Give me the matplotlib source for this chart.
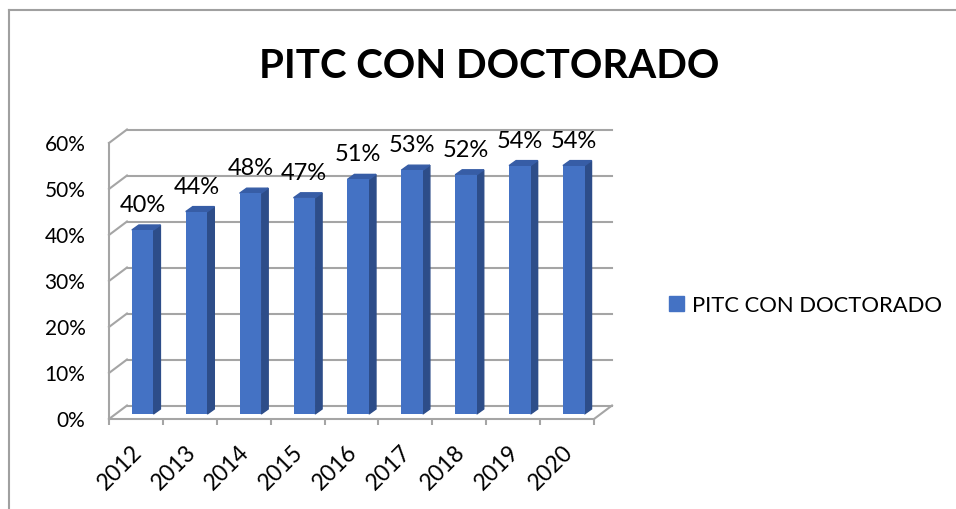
import matplotlib
matplotlib.use("Agg")
import matplotlib.pyplot as plt
from matplotlib.patches import Polygon, Patch
from matplotlib.lines import Line2D
from matplotlib.transforms import ScaledTranslation

years = ["2012", "2013", "2014", "2015", "2016", "2017", "2018", "2019", "2020"]
values = [0.40, 0.44, 0.48, 0.47, 0.51, 0.53, 0.52, 0.54, 0.54]
y_ticks = [0.0, 0.1, 0.2, 0.3, 0.4, 0.5, 0.6]
y_labels = ["0%", "10%", "20%", "30%", "40%", "50%", "60%"]
title = "PITC CON DOCTORADO"

plt.rcParams["font.family"] = ["Lato", "DejaVu Sans"]

W, H = 956, 509
fig = plt.figure(figsize=(W / 100, H / 100), dpi=100)

# front plane of the 3d box, in pixels
left, right, bottom, top = 109, 594, 419, 143
ax = fig.add_axes([left / W, 1 - bottom / H, (right - left) / W, (bottom - top) / H])
n = len(years)
ax.set_xlim(-0.5, n - 0.5)
ax.set_ylim(0, 0.6)
for s in ax.spines.values():
    s.set_visible(False)

# pixel -> data conversion
ppx = (right - left) / n
ppy = (bottom - top) / 0.6
ox, oy = 18 / ppx, 13.5 / ppy          # depth of the wall
bx, by = 6.7 / ppx, 5 / ppy            # where the bar front sits
sx, sy = 7 / ppx, 5 / ppy              # bar depth
bw = 0.4

grid = "#A5A5A5"
lw = 1.5
x0, x1 = -0.5, n - 0.5

# back wall gridlines + left side wall diagonals
for v in y_ticks:
    ax.plot([x0 + ox, x1 + ox], [v + oy, v + oy], color=grid, lw=lw, clip_on=False, zorder=1)
    ax.plot([x0, x0 + ox], [v, v + oy], color=grid, lw=lw, clip_on=False, zorder=1)
# left vertical axis line and floor
ax.plot([x0, x0], [0, 0.6], color=grid, lw=lw, clip_on=False, zorder=1)
ax.plot([x0, x1], [0, 0], color=grid, lw=lw, clip_on=False, zorder=5)
ax.plot([x1, x1 + ox], [0, oy], color=grid, lw=lw, clip_on=False, zorder=5)

front = "#4472C4"
side = "#2D4D89"
topc = "#375DA6"
xs = [i + bx for i in range(n)]
bars = ax.bar(xs, values, width=bw, bottom=by, color=front, zorder=3, clip_on=False)
for xc, v in zip(xs, values):
    xl, xr = xc - bw / 2, xc + bw / 2
    y0, y1 = by, by + v
    ax.add_patch(Polygon([(xr, y0), (xr + sx, y0 + sy), (xr + sx, y1 + sy), (xr, y1)],
                         closed=True, color=side, zorder=2, clip_on=False))
    ax.add_patch(Polygon([(xl, y1), (xr, y1), (xr + sx, y1 + sy), (xl + sx, y1 + sy)],
                         closed=True, color=topc, zorder=2, clip_on=False))
    ax.annotate(f"{v:.0%}", (xc, y1), xytext=(0, 13), textcoords="offset points",
                ha="center", va="baseline", fontsize=17, color="black")

# axes ticks
ax.set_yticks(y_ticks)
ax.set_yticklabels(y_labels, fontsize=15)
ax.tick_params(axis="y", length=0, pad=17)
ax.set_xticks(range(n))
ax.set_xticklabels(years, fontsize=16.5, rotation=45, ha="right", rotation_mode="anchor")
ax.tick_params(axis="x", which="major", length=0, pad=16)
shift = ScaledTranslation(-5 / 100, 0, fig.dpi_scale_trans)
for lab in ax.get_xticklabels():
    lab.set_transform(lab.get_transform() + shift)
ax.set_xticks([i - 0.5 for i in range(n + 1)], minor=True)
ax.tick_params(axis="x", which="minor", length=4.5, width=lw, color=grid)

fig.text(489 / W, 1 - 77.5 / H, title, fontsize=29, fontweight="bold",
         ha="center", va="baseline")

fig.legend([Patch(color=front)], [title], loc="center left",
           bbox_to_anchor=(669 / W, 1 - 305.5 / H), frameon=False, fontsize=15.8,
           handlelength=0.68, handleheight=0.68, handletextpad=0.38,
           borderpad=0, borderaxespad=0)

# chart frame
fig.add_artist(Line2D([9 / W, 1], [1 - 10 / H, 1 - 10 / H], color="#A0A0A0", lw=1.5))
fig.add_artist(Line2D([9 / W, 9 / W], [1 - 10 / H, 0], color="#A0A0A0", lw=1.5))

fig.savefig("out.png", dpi=100)
